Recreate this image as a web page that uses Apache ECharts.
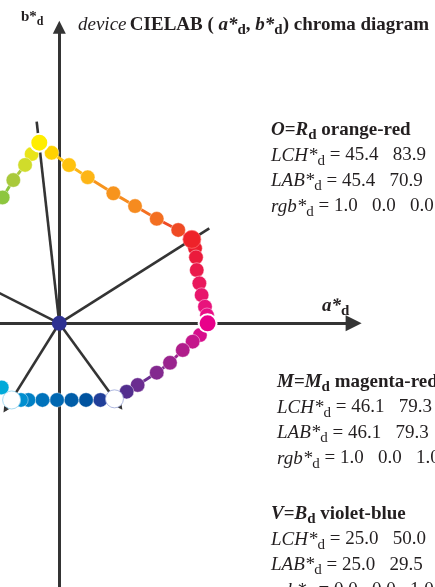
<!DOCTYPE html>
<html>
<head>
<meta charset="utf-8">
<script src="https://cdn.jsdelivr.net/npm/echarts@6/dist/echarts.min.js"></script>
<style>
  html, body { margin: 0; padding: 0; background: #ffffff; }
  #chart { width: 435px; height: 587px; }
</style>
</head>
<body>
<div id="chart"></div>
<script>
// Device colour samples in the (a*, b*) plane, one list per hexagon edge.
// Yellow Y -> orange-red R
const yellowRedA = [-10.7, -4.1, 5.2, 15.2, 28.9, 40.5, 52.1, 63.6, 70.9];
const yellowRedB = [96.6, 91.2, 84.6, 78.1, 69.5, 62.7, 55.9, 49.9, 44.9];
const yellowRedColors = ['#FFED00', '#FFD200', '#FFC20E', '#FDB515', '#F7941D', '#F68B1F', '#F36F21', '#EF4A24', '#ED1C24'];

// Orange-red R -> magenta-red M
const redMagentaA = [70.9, 72.6, 73.1, 73.5, 74.9, 76.1, 77.9, 79.0, 79.3];
const redMagentaB = [44.9, 40.1, 35.3, 28.5, 21.4, 15.1, 8.9, 4.3, 0.0];
const redMagentaColors = ['#ED1C24', '#EC1C2E', '#EB1B3C', '#EA1A4B', '#E9185C', '#E8166C', '#E8137C', '#E90E86', '#E8008A'];

// Magenta-red M -> violet-blue V
const magentaBlueA = [79.3, 75.2, 71.3, 66.0, 59.2, 52.1, 41.9, 36.0, 29.5];
const magentaBlueB = [0.0, -6.3, -9.8, -14.3, -21.1, -26.4, -33.0, -36.6, -40.4];
const magentaBlueColors = ['#E8008A', '#D70E8C', '#C4178B', '#B01D8B', '#9A248E', '#83298F', '#6B2D90', '#532E8E', '#FFFFFF'];

// Violet-blue V -> cyan-blue C
const blueCyanA = [29.5, 22.0, 14.3, 6.5, -1.2, -9.0, -16.5, -20.5, -25.5];
const blueCyanB = [-40.4, -41.0, -41.0, -41.0, -41.0, -41.0, -41.0, -41.0, -41.0];
const blueCyanColors = ['#FFFFFF', '#213F99', '#00539F', '#005DA8', '#0067B1', '#0072BB', '#0080C5', '#008FD0', '#FFFFFF'];

// Cyan-blue C -> green
const cyanGreenA = [-25.5, -30.8];
const cyanGreenB = [-41.0, -34.3];
const cyanGreenColors = ['#FFFFFF', '#00AAD9'];

// Yellow Y -> green
const yellowGreenA = [-10.7, -14.8, -18.3, -24.6, -30.3];
const yellowGreenB = [96.6, 90.5, 84.7, 76.6, 67.3];
const yellowGreenColors = ['#FFED00', '#E9E419', '#D0DC2B', '#A9C93B', '#8DC63F'];

// Hue lines from the achromatic point through the device colours
const hueLineA = [-12.1, 80.2, 32.8, -29.0, -60.0];
const hueLineB = [107.8, 50.8, -45.0, -46.4, 30.3];
const hueLineArrow = [false, false, true, true, false];

// Axis ends (a*, b*) and the achromatic centre
const axisA = [-40, 157.4];
const axisB = [-160, 158.3];
const centre = [0, 0];

// Text of the three colour descriptions
const descR = ['{bi|O}{b|=}{bi|R}{bsub|d}{b| orange-red}',
  '{i|LCH*}{sub|d}{r| = 45.4   83.9   32.3}',
  '{i|LAB*}{sub|d}{r| = 45.4   70.9   44.9}',
  '{i|rgb*}{sub|d}{r| = 1.0   0.0   0.0}'];
const descM = ['{bi|M}{b|=}{bi|M}{bsub|d}{b| magenta-red}',
  '{i|LCH*}{sub|d}{r| = 46.1   79.3   0.0}',
  '{i|LAB*}{sub|d}{r| = 46.1   79.3   0.0}',
  '{i|rgb*}{sub|d}{r| = 1.0   0.0   1.0}'];
const descV = ['{bi|V}{b|=}{bi|B}{bsub|d}{b| violet-blue}',
  '{i|LCH*}{sub|d}{r| = 25.0   50.0   306.1}',
  '{i|LAB*}{sub|d}{r| = 25.0   29.5   -40.4}',
  '{i|rgb*}{sub|d}{r| = 0.0   0.0   1.0}'];

// ---- layout ----
const W = 435, H = 587, SCALE = 1.87, OX = 59.3, OY = 323.3;
const FONT = "'Liberation Serif', 'Times New Roman', serif";
const INK = '#231f20';
const LINE = '#343434';

function richStyles(size) {
  const base = { fontFamily: FONT, fontSize: size, fill: INK };
  const sub = Math.round(size * 0.78);
  const drop = Math.round(size * 0.6);
  return {
    r: Object.assign({}, base),
    i: Object.assign({}, base, { fontStyle: 'italic' }),
    b: Object.assign({}, base, { fontWeight: 'bold' }),
    bi: Object.assign({}, base, { fontWeight: 'bold', fontStyle: 'italic' }),
    sub: Object.assign({}, base, { fontSize: sub, padding: [drop, 0, 0, 0] }),
    bsub: Object.assign({}, base, { fontSize: sub, fontWeight: 'bold', padding: [drop, 0, 0, 0] })
  };
}
function textEl(x, y, text, size) {
  return {
    type: 'text', x: x, y: y, z: 20,
    style: { text: text, rich: richStyles(size), fill: INK, align: 'left', verticalAlign: 'middle' }
  };
}

function edgeParts(aList, bList, colors) {
  const segs = [];
  const dots = [];
  for (let i = 0; i < aList.length; i++) {
    if (i > 0) {
      let c = colors[i];
      if (c === '#FFFFFF') c = colors[i - 1];
      segs.push({ coords: [[aList[i - 1], bList[i - 1]], [aList[i], bList[i]]], lineStyle: { color: c } });
    }
    dots.push({ value: [aList[i], bList[i]], itemStyle: { color: colors[i] } });
  }
  return { segs, dots };
}

const edges = [
  edgeParts(yellowRedA, yellowRedB, yellowRedColors),
  edgeParts(redMagentaA, redMagentaB, redMagentaColors),
  edgeParts(magentaBlueA, magentaBlueB, magentaBlueColors),
  edgeParts(blueCyanA, blueCyanB, blueCyanColors),
  edgeParts(cyanGreenA, cyanGreenB, cyanGreenColors),
  edgeParts(yellowGreenA, yellowGreenB, yellowGreenColors)
];
let edgeSegs = [], edgeDots = [];
edges.forEach(e => { edgeSegs = edgeSegs.concat(e.segs); edgeDots = edgeDots.concat(e.dots); });

// device primaries drawn larger on top
const keyDots = [
  { value: [yellowRedA[0], yellowRedB[0]], itemStyle: { color: yellowRedColors[0], borderColor: '#ffffff', borderWidth: 2 } },
  { value: [redMagentaA[0], redMagentaB[0]], itemStyle: { color: '#EE2229', borderColor: 'rgba(255,120,120,0.7)', borderWidth: 1 } },
  { value: [magentaBlueA[0], magentaBlueB[0]], itemStyle: { color: magentaBlueColors[0], borderColor: '#ffffff', borderWidth: 2 } },
  { value: [blueCyanA[0], blueCyanB[0]], itemStyle: { color: '#ffffff', borderColor: '#9aa6d8', borderWidth: 0.8 } },
  { value: [blueCyanA[8], blueCyanB[8]], itemStyle: { color: '#ffffff', borderColor: '#8fd0ee', borderWidth: 0.8 } }
];

const hueSegsPlain = [], hueSegsArrow = [];
for (let i = 0; i < hueLineA.length; i++) {
  const seg = { coords: [centre, [hueLineA[i], hueLineB[i]]] };
  (hueLineArrow[i] ? hueSegsArrow : hueSegsPlain).push(seg);
}

const chart = echarts.init(document.getElementById('chart'), null, { renderer: 'canvas' });
chart.setOption({
  animation: false,
  backgroundColor: '#ffffff',
  grid: { left: 0, right: 0, top: 0, bottom: 0 },
  xAxis: { type: 'value', show: false, min: -OX / SCALE, max: (W - OX) / SCALE },
  yAxis: { type: 'value', show: false, min: -(H - OY) / SCALE, max: OY / SCALE },
  series: [
    { type: 'lines', coordinateSystem: 'cartesian2d', z: 1, silent: true,
      symbol: ['none', 'triangle'], symbolSize: [8, 16],
      lineStyle: { color: LINE, width: 3, opacity: 1 },
      data: [{ coords: [[axisA[0], 0], [axisA[1], 0]] }] },
    { type: 'lines', coordinateSystem: 'cartesian2d', z: 1, silent: true,
      symbol: ['none', 'triangle'], symbolSize: [8, 13],
      lineStyle: { color: LINE, width: 3, opacity: 1 },
      data: [{ coords: [[0, axisB[0]], [0, axisB[1]]] }] },
    { type: 'lines', coordinateSystem: 'cartesian2d', z: 2, silent: true,
      lineStyle: { color: LINE, width: 2.6, opacity: 1 },
      data: hueSegsPlain },
    { type: 'lines', coordinateSystem: 'cartesian2d', z: 2, silent: true,
      symbol: ['none', 'triangle'], symbolSize: [5, 6],
      lineStyle: { color: LINE, width: 2.6, opacity: 1 },
      data: hueSegsArrow },
    { type: 'lines', coordinateSystem: 'cartesian2d', z: 3, silent: true,
      lineStyle: { width: 3, opacity: 1 },
      data: edgeSegs },
    { type: 'scatter', z: 4, silent: true, clip: false, symbolSize: 14.5,
      itemStyle: { borderColor: 'rgba(255,255,255,0.55)', borderWidth: 0.8, opacity: 1 },
      data: edgeDots },
    { type: 'scatter', z: 5, silent: true, clip: false, symbolSize: 18,
      itemStyle: { opacity: 1 },
      data: keyDots },
    { type: 'scatter', z: 6, silent: true, clip: false, symbolSize: 15,
      itemStyle: { color: '#2E3192', opacity: 1 },
      data: [centre] }
  ],
  graphic: [
    textEl(78, 25, '{i|device} {b|CIELAB ( }{bi|a*}{bsub|d}{b|, }{bi|b*}{bsub|d}{b|) chroma diagram}', 19),
    textEl(21, 17, '{b|b*}{bsub|d}', 15),
    textEl(322, 306, '{bi|a*}{bsub|d}', 19)
  ].concat(
    descR.map((t, k) => textEl(271, 130 + k * 25.5, t, 19)),
    descM.map((t, k) => textEl(277, 382 + k * 25.5, t, 19)),
    descV.map((t, k) => textEl(271, 514 + k * 25.5, t, 19))
  )
});
</script>
</body>
</html>
